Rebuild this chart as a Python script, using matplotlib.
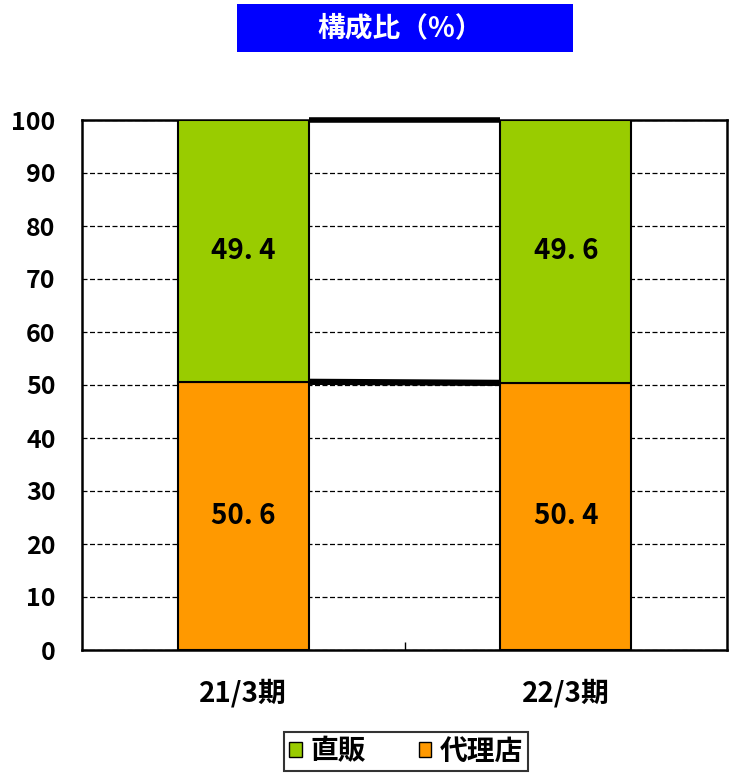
import matplotlib
matplotlib.use('Agg')
import matplotlib.pyplot as plt
from matplotlib.patches import Patch, Rectangle

plt.rcParams['font.family'] = ['Noto Sans CJK JP', 'DejaVu Sans']

# data
categories = ['21/3期', '22/3期']
dairiten = [50.6, 50.4]   # 代理店
chokuhan = [49.4, 49.6]   # 直販
series_names = ['直販', '代理店']
yticks = [0, 10, 20, 30, 40, 50, 60, 70, 80, 90, 100]

green = '#99CC00'
orange = '#FF9900'

fig = plt.figure(figsize=(7.33, 7.76), dpi=100)
ax = fig.add_axes([82/733, 126/776, 645/733, 530/776])

x = list(range(len(categories)))
w = 0.405
ax.bar(x, dairiten, width=w, color=orange, edgecolor='black', linewidth=1.5, zorder=3)
ax.bar(x, chokuhan, width=w, bottom=dairiten, color=green, edgecolor='black', linewidth=1.5, zorder=3)

# series lines between bars
tops = [d + c for d, c in zip(dairiten, chokuhan)]
ax.plot([x[0] + w/2, x[1] - w/2], [dairiten[0], dairiten[1]], color='black', lw=4.5, zorder=4,
        solid_capstyle='butt')
ax.plot([x[0] + w/2, x[1] - w/2], [tops[0], tops[1]], color='black', lw=4, zorder=4,
        solid_capstyle='butt', clip_on=False)

# value labels
for i in x:
    ax.text(i, dairiten[i] / 2, f'{dairiten[i]:.1f}'.replace('.', '. '), ha='center', va='center',
            fontsize=20, fontweight='bold', zorder=5)
    ax.text(i, dairiten[i] + chokuhan[i] / 2, f'{chokuhan[i]:.1f}'.replace('.', '. '), ha='center', va='center',
            fontsize=20, fontweight='bold', zorder=5)

ax.set_xlim(-0.5, 1.5)
ax.set_ylim(0, 100)
ax.set_yticks(yticks)
ax.set_yticklabels([str(t) for t in yticks], fontsize=18, fontweight='bold')
ax.yaxis.grid(True, linestyle=(0, (4, 2)), color='black', linewidth=0.9, zorder=0)
ax.tick_params(axis='y', length=0, pad=19)
ax.set_xticks([0.5])
ax.set_xticklabels([''])
ax.tick_params(axis='x', direction='in', length=6, width=1)
for i, c in enumerate(categories):
    ax.text(i, -5.5, c, ha='center', va='top', fontsize=20, fontweight='bold')
for s in ax.spines.values():
    s.set_linewidth(1.8)

# title box
fig.patches.append(Rectangle((237/733, 724/776), 336/733, 48/776, transform=fig.transFigure,
                             facecolor='#0000FF', edgecolor='none'))
fig.text(400/733, 748/776, '構成比（%）', ha='center', va='center', color='white',
         fontsize=20, fontweight='bold')

# legend
handles = [Patch(facecolor=green, edgecolor='black'), Patch(facecolor=orange, edgecolor='black')]
leg = fig.legend(handles, series_names, loc='upper center', bbox_to_anchor=(406/733, 44/776),
                 ncol=2, frameon=True, fancybox=False, edgecolor='black',
                 prop={'size': 20, 'weight': 'bold'}, handlelength=0.45, handleheight=0.45,
                 handletextpad=0.3, columnspacing=1.9, borderpad=0.2, borderaxespad=0)
leg.get_frame().set_linewidth(1.5)

fig.savefig('out.png', dpi=100)
